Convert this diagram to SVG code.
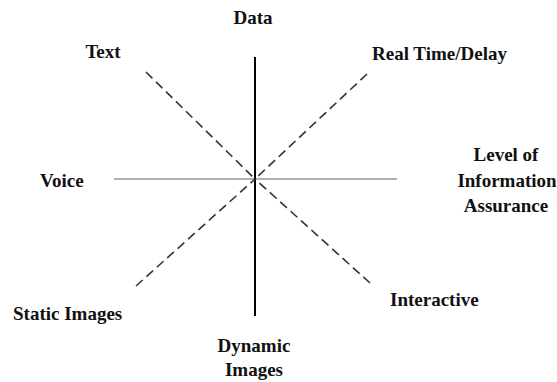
<svg xmlns="http://www.w3.org/2000/svg" width="557" height="382" viewBox="0 0 557 382">
<style>
.lbl{font-family:"Liberation Serif","Times New Roman",serif;font-weight:bold;font-size:19px;fill:#111}
.axis-v{stroke:#000;stroke-width:2;fill:none}
.axis-h{stroke:#b0b0b0;stroke-width:2;fill:none}
.diag{stroke:#333;stroke-width:1.6;stroke-dasharray:9 5;fill:none}
</style>
<rect width="557" height="382" fill="#fff"/>
<g id="connectors">
<line class="axis-h" x1="114" y1="179" x2="397" y2="179"/>
<line class="axis-v" x1="255" y1="57" x2="255" y2="316"/>
<line class="diag" x1="146" y1="72" x2="255" y2="179"/>
<line class="diag" x1="367" y1="74" x2="255" y2="179"/>
<line class="diag" x1="136" y1="286" x2="255" y2="179"/>
<line class="diag" x1="370" y1="283" x2="255" y2="179"/>
</g>
<g id="data"><text class="lbl" x="253" y="24" text-anchor="middle">Data</text></g>
<g id="text"><text class="lbl" x="103" y="58" text-anchor="middle">Text</text></g>
<g id="realtime"><text class="lbl" x="372" y="60">Real Time/Delay</text></g>
<g id="voice"><text class="lbl" x="40" y="187">Voice</text></g>
<g id="assurance">
<text class="lbl" x="506" y="161" text-anchor="middle">Level of</text>
<text class="lbl" x="507" y="187" text-anchor="middle">Information</text>
<text class="lbl" x="506" y="212" text-anchor="middle">Assurance</text>
</g>
<g id="static"><text class="lbl" x="13" y="320">Static Images</text></g>
<g id="interactive"><text class="lbl" x="390" y="306">Interactive</text></g>
<g id="dynamic">
<text class="lbl" x="254" y="352" text-anchor="middle">Dynamic</text>
<text class="lbl" x="254" y="376" text-anchor="middle">Images</text>
</g>
</svg>
